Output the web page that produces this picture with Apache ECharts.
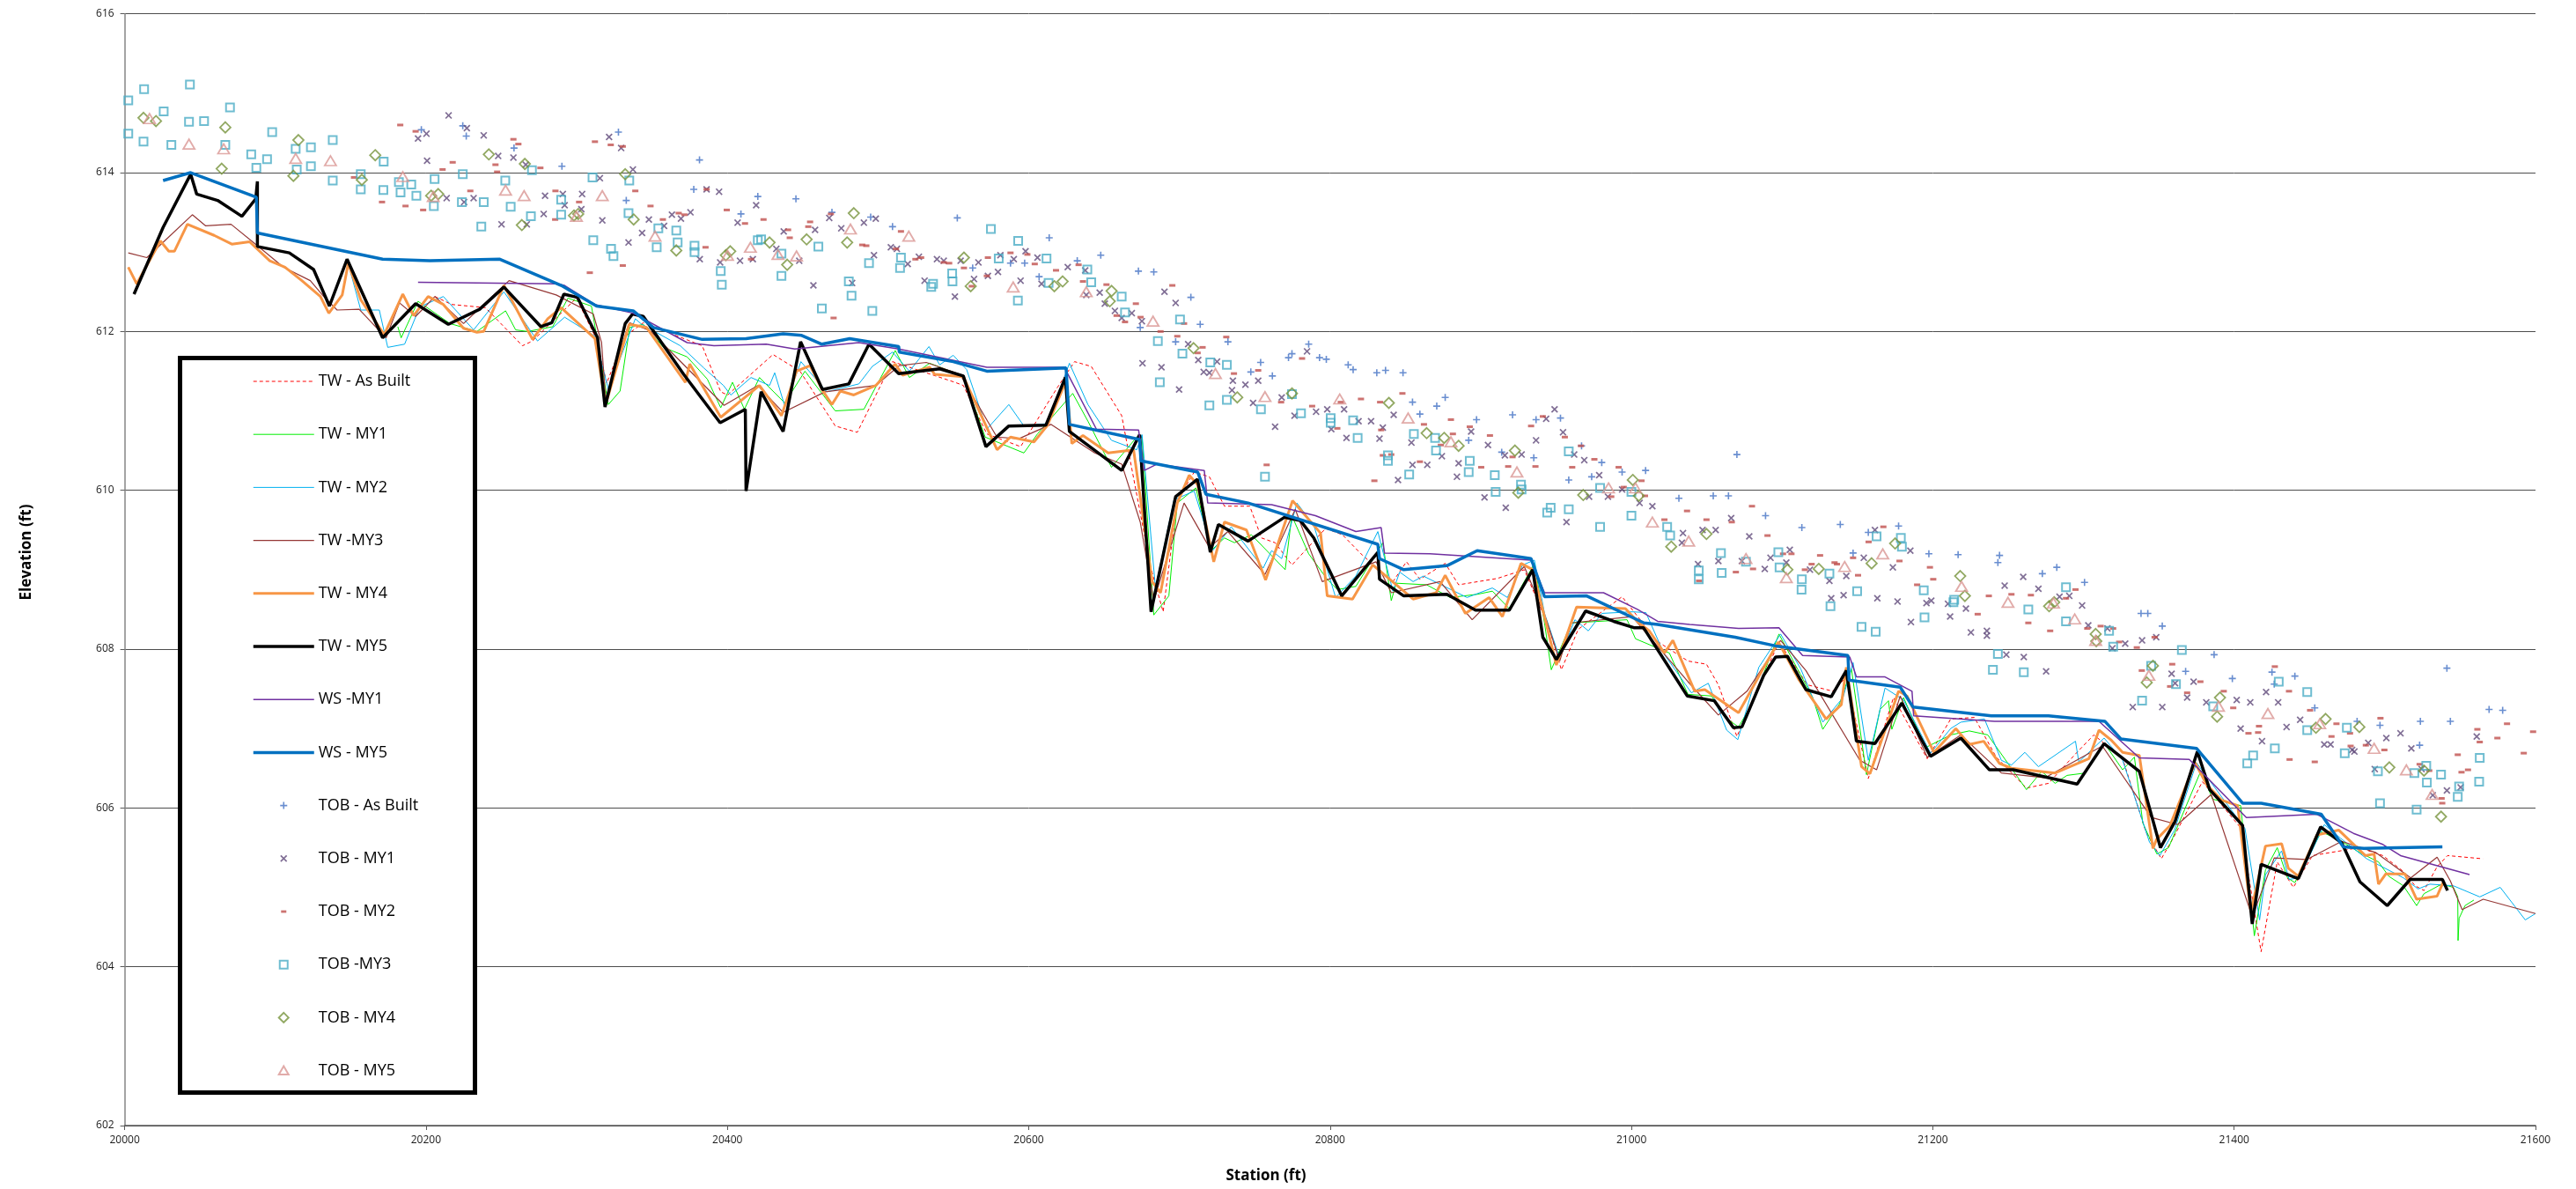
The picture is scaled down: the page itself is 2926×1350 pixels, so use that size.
<!DOCTYPE html>
<html>
<head>
<meta charset="utf-8">
<script src="https://cdn.jsdelivr.net/npm/echarts@6/dist/echarts.min.js"></script>
<style>
html,body{margin:0;padding:0;background:#fff;}
#chart{width:2926px;height:1350px;}
</style>
</head>
<body>
<div id="chart"></div>
<script>
// ---------- axis ticks ----------
const stationTicks = [20000, 20200, 20400, 20600, 20800, 21000, 21200, 21400, 21600];
const elevationTicks = [602, 604, 606, 608, 610, 612, 614, 616];

// ---------- series names ----------
const seriesNames = ['TW - As Built','TW - MY1','TW - MY2','TW -MY3','TW - MY4','TW - MY5','WS -MY1','WS - MY5',
  'TOB - As Built','TOB - MY1','TOB - MY2','TOB -MY3','TOB - MY4','TOB - MY5'];

// ---------- thalweg / water surface profiles [station, elevation] ----------
const twAsBuilt = [[20205.9,612.44],[20217,612.34],[20239.4,612.30],[20264,611.82],[20270.7,611.88],[20299.8,612.42],[20313.2,611.90],[20319.9,611.35],[20332.2,611.94],[20344.2,612.11],[20383.3,611.82],[20395.6,611.24],[20400.1,611.20],[20430.3,611.71],[20448.2,611.50],[20471.6,610.81],[20486.2,610.73],[20509.6,611.62],[20551,611.36],[20556.6,611.32],[20572.2,610.71],[20594.6,610.55],[20619.2,611.30],[20630.4,611.62],[20641.5,611.56],[20661.7,610.94],[20680.8,609.04],[20689.2,608.47],[20698.6,609.87],[20709.8,610.23],[20719.9,610.17],[20729.9,609.80],[20746.7,609.80],[20754.5,609.40],[20763.5,609.34],[20774.7,609.06],[20797,609.52],[20808.2,609.44],[20821.6,609.18],[20841.7,608.85],[20850.7,609.10],[20859.6,608.88],[20876.4,609.08],[20885.3,608.81],[20911,608.89],[20928.9,609.00],[20945.7,608.25],[20953.5,607.74],[20964.7,608.25],[20993.8,608.66],[21017,608.10],[21037.5,607.85],[21049.8,607.81],[21057.7,607.55],[21070,606.90],[21097.9,608.09],[21116.9,607.55],[21133.7,607.47],[21142.6,607.65],[21157.2,606.37],[21173.9,607.39],[21196.3,606.62],[21211.9,607.12],[21227.6,607.14],[21242.1,606.64],[21262.2,606.25],[21276.8,606.31],[21294.7,606.68],[21306.9,606.92],[21326,606.62],[21341.6,605.69],[21351.7,605.36],[21360.4,605.65],[21378.9,606.33],[21404.3,605.75],[21417.9,604.19],[21428.6,605.32],[21439.3,605.00],[21452,605.40],[21483.1,605.50],[21498.7,605.40],[21512.3,605.20],[21520.1,605.02],[21526,604.96],[21534.7,605.26],[21541.6,605.40],[21565,605.36]];

const twMY1 = [[20181.3,612.06],[20183.5,611.92],[20194.7,612.38],[20215.9,612.10],[20233.8,612.00],[20252.8,612.26],[20259.5,612.02],[20267.4,612.00],[20284.1,612.06],[20294.2,612.42],[20309.8,612.32],[20321,611.08],[20328.8,611.25],[20335.2,612.05],[20344.2,612.09],[20357.6,611.80],[20373.3,611.68],[20386.7,611.40],[20395.6,611.04],[20403.4,611.36],[20411.3,611.02],[20421.3,611.42],[20438.1,611.10],[20451.5,611.50],[20471.6,611.00],[20490.6,611.02],[20511.4,611.76],[20520.8,611.42],[20534.2,611.60],[20556.6,611.44],[20571.1,610.67],[20596.8,610.47],[20605.8,610.71],[20629.2,611.22],[20639.3,610.87],[20654.9,610.29],[20671.7,610.67],[20675.2,610.67],[20683,608.43],[20693,608.67],[20698.6,609.84],[20710.9,610.03],[20721,609.24],[20729.9,609.40],[20736.6,609.34],[20747.8,609.44],[20770.2,609.00],[20774.6,609.68],[20785.8,609.20],[20798.1,608.88],[20804.8,608.75],[20817.1,608.79],[20835,609.34],[20840.6,608.61],[20843.9,608.83],[20864.1,608.81],[20879.7,608.65],[20897.6,608.69],[20907.7,608.73],[20918.9,608.51],[20935.6,609.08],[20942.3,608.33],[20946.8,607.74],[20960.2,608.33],[20997.1,608.37],[21002.7,608.13],[21025.2,607.95],[21037.5,607.43],[21053.2,607.41],[21062.1,607.14],[21071.1,607.02],[21080,607.31],[21097.9,608.19],[21120.3,607.39],[21127,606.99],[21138.1,607.31],[21146,607.75],[21156,606.42],[21165,607.24],[21170.6,607.35],[21172.8,606.99],[21180.6,607.39],[21195.2,606.76],[21211.9,606.92],[21224.2,606.97],[21236.5,606.92],[21262.2,606.23],[21272.3,606.46],[21281.2,606.31],[21289.1,606.41],[21301.4,606.44],[21313.7,606.82],[21326,606.48],[21333.8,606.64],[21339.4,605.81],[21348.7,605.42],[21356.5,605.50],[21378,606.47],[21385.7,606.11],[21404.3,606.03],[21413.4,604.39],[21420.8,605.22],[21428.6,605.50],[21435.4,605.12],[21440.3,605.06],[21457.8,605.70],[21469.5,605.60],[21483.1,605.44],[21495.8,605.32],[21502.6,605.14],[21512.3,605.02],[21521.1,604.77],[21526,604.92],[21537.7,605.04],[21545.5,605.00],[21548.4,604.88],[21548.6,604.33],[21549.3,604.61],[21553.2,604.77],[21559.1,604.84]];

const twMY2 = [[20147.6,612.91],[20156.7,612.27],[20169,612.27],[20174.6,611.80],[20185.8,611.84],[20195.8,612.31],[20211.5,612.44],[20231.6,612.02],[20251.7,612.50],[20274,611.88],[20292,612.18],[20312.1,611.94],[20321,611.27],[20338.9,612.16],[20343.1,612.09],[20368.8,611.82],[20384.4,611.54],[20397.4,611.32],[20402.3,611.20],[20415.7,611.42],[20428,611.32],[20431.4,611.48],[20438.1,611.06],[20448.8,611.62],[20466,611.24],[20487.3,611.34],[20496.2,611.56],[20509.6,611.74],[20520.8,611.50],[20533.8,611.81],[20540.9,611.58],[20549.9,611.70],[20558.8,611.52],[20572.2,610.77],[20586.8,611.08],[20596.8,610.81],[20612.5,610.84],[20627,611.60],[20639.3,611.08],[20654.9,610.63],[20671.7,610.51],[20675.2,610.70],[20684.1,608.77],[20696.4,609.88],[20709.8,609.99],[20722.1,609.24],[20734.4,609.54],[20755.6,609.02],[20761.2,609.24],[20767.9,609.14],[20778,609.84],[20789.2,609.56],[20803.7,608.65],[20817.1,608.92],[20831.7,609.48],[20841.7,608.73],[20846.2,608.97],[20855.1,608.85],[20861.9,608.92],[20890.9,608.65],[20907.7,608.77],[20917.7,608.65],[20927.8,609.06],[20935.6,609.12],[20942.3,608.45],[20952.4,607.89],[20962.5,608.37],[20971.4,608.23],[20980.4,608.45],[21000.5,608.47],[21009.6,608.46],[21021.9,607.93],[21039.8,607.45],[21051,607.57],[21063.2,606.98],[21070.6,606.86],[21084.5,607.77],[21099,608.19],[21112.4,607.75],[21127,607.08],[21140.4,607.39],[21147.1,607.83],[21157.2,606.60],[21168.3,607.51],[21180.6,607.36],[21198.5,606.69],[21211.9,607.00],[21218.6,607.08],[21234.3,607.12],[21245.5,606.60],[21252.2,606.54],[21261.1,606.70],[21270.1,606.52],[21294.7,606.84],[21296.9,606.58],[21313.7,606.88],[21326,606.60],[21343.8,605.57],[21350.7,605.40],[21360.4,605.72],[21375,606.57],[21407.2,605.74],[21416.9,604.59],[21420.8,605.16],[21431.5,605.46],[21436.4,605.10],[21443.2,605.12],[21459.8,605.79],[21470.5,605.62],[21488,605.36],[21512.3,605.12],[21522.1,604.98],[21529.9,605.04],[21545.5,605.02],[21563,604.88],[21576.6,605.00],[21593.2,604.59],[21600,604.67]];

const twMY3 = [[20002.4,612.99],[20014.7,612.93],[20025.9,613.13],[20044.9,613.47],[20053.8,613.33],[20070.6,613.35],[20087.4,613.09],[20105.3,612.81],[20123.2,612.64],[20132.1,612.44],[20141.0,612.27],[20155.6,612.28],[20173.5,611.92],[20182.4,612.36],[20193.1,612.19],[20205.9,612.44],[20224.9,612.10],[20255.1,612.64],[20286.4,612.46],[20311,612.22],[20316.5,611.86],[20319.2,611.15],[20333.3,612.02],[20335.2,612.11],[20348.7,612.01],[20397.8,611.07],[20420.2,611.32],[20437,610.98],[20464.9,611.24],[20498.5,611.32],[20514.1,611.57],[20532,611.61],[20554.4,611.46],[20578.9,610.67],[20593.5,610.65],[20614.7,610.83],[20643.8,610.47],[20661.7,610.33],[20674,609.60],[20683,608.61],[20703.1,609.84],[20719.9,609.28],[20732.2,609.48],[20756.8,608.94],[20776.9,609.76],[20794.8,608.85],[20830.5,609.10],[20840.6,608.71],[20873,608.85],[20894.3,608.37],[20928.9,609.04],[20943.5,608.37],[20952.4,607.85],[20960.2,608.33],[21000.5,608.41],[21037.5,607.59],[21057.7,607.17],[21076.7,607.47],[21099,608.11],[21115.8,607.73],[21151.6,606.60],[21162.7,606.48],[21178.4,607.41],[21196.3,606.64],[21218.6,606.92],[21245.5,606.44],[21274.5,606.38],[21312.5,606.78],[21345,605.88],[21362.4,605.79],[21384.8,606.17],[21412.0,604.63],[21426.6,605.37],[21448.1,605.35],[21471.4,605.58],[21493.8,605.44],[21517.2,605.12],[21534.7,605.38],[21543.5,605.08],[21551.3,604.72],[21565.3,604.85],[21600,604.67]];

const twMY4 = [[20002.4,612.81],[20008,612.60],[20023.7,613.14],[20029.3,613.01],[20033,613.01],[20041.6,613.35],[20059.4,613.21],[20071.1,613.10],[20082.9,613.13],[20096.3,612.89],[20106.4,612.81],[20117.6,612.64],[20129.9,612.44],[20135.5,612.23],[20144.4,612.46],[20148.4,612.86],[20156.7,612.40],[20172.3,611.96],[20184.6,612.47],[20191.8,612.20],[20201.4,612.44],[20211.5,612.34],[20224.9,612.04],[20233.8,611.99],[20238.3,612.00],[20251.7,612.58],[20270.7,611.90],[20280.8,612.16],[20289.7,612.30],[20312.1,611.91],[20319.2,611.08],[20327.7,611.63],[20334.8,612.09],[20346.4,612.05],[20372.1,611.36],[20375,611.59],[20395.6,610.92],[20421.3,611.32],[20435.9,610.94],[20445.9,611.50],[20454.9,611.57],[20463.1,611.26],[20469.4,611.08],[20475,611.25],[20483.9,611.20],[20498.5,611.32],[20511.4,611.59],[20516.3,611.45],[20534.2,611.55],[20537.6,611.46],[20556.6,611.43],[20579,610.51],[20587.9,610.67],[20603.5,610.61],[20612.5,610.82],[20624.8,611.38],[20628.6,610.59],[20636,610.69],[20652.7,610.47],[20669.6,610.51],[20681.9,608.85],[20687.5,608.71],[20698.6,609.84],[20706.5,610.19],[20712.1,610.07],[20722.8,609.10],[20729.9,609.60],[20744.5,609.50],[20757.2,608.87],[20775.1,609.87],[20793.7,609.46],[20798.1,608.67],[20814.9,608.63],[20828.3,609.06],[20855.1,608.63],[20870.4,608.71],[20876.4,608.93],[20889.8,608.45],[20905.5,608.65],[20914.4,608.41],[20926.7,609.08],[20934.5,609.00],[20942.3,608.41],[20950.2,607.80],[20963.6,608.53],[20996,608.51],[21004.9,608.33],[21011.8,608.23],[21021.9,607.95],[21027.5,608.11],[21042,607.47],[21048.7,607.49],[21071.1,607.20],[21086.7,607.73],[21097.5,608.09],[21111.3,607.61],[21129.2,607.12],[21139.3,607.30],[21142.6,607.77],[21152.7,606.52],[21158.3,606.43],[21161.6,606.61],[21177.3,607.47],[21182.9,607.41],[21200.7,606.70],[21215.3,607.00],[21224.2,606.80],[21233.8,606.84],[21244.3,606.56],[21252.2,606.50],[21281.2,606.44],[21303.6,606.62],[21310.3,606.98],[21318.1,606.86],[21326,606.70],[21337.1,606.66],[21346.1,605.49],[21348.4,605.60],[21357.5,605.78],[21374.1,606.57],[21381.9,606.29],[21391.6,606.10],[21402.3,606.03],[21411.1,604.69],[21420.8,605.52],[21431.5,605.55],[21436,605.24],[21442.6,605.14],[21454.9,605.66],[21469.5,605.72],[21487,605.40],[21492.9,605.42],[21495.8,605.04],[21500.7,605.17],[21513.3,605.17],[21521.1,604.85],[21534.7,604.89],[21538.6,605.06]];

const twMY5 = [[20006.2,612.47],[20025.5,613.31],[20043.8,613.98],[20047.8,613.73],[20061.7,613.65],[20077.8,613.45],[20087.0,613.67],[20088.1,613.89],[20088.1,613.07],[20109.3,612.99],[20125.4,612.78],[20135.9,612.32],[20147.6,612.91],[20171.2,611.92],[20193.1,612.35],[20214.8,612.09],[20235.6,612.28],[20251.7,612.56],[20276.3,612.06],[20283.5,612.11],[20291.5,612.47],[20300.5,612.43],[20313.9,611.92],[20318.8,611.05],[20332.2,612.10],[20337.1,612.22],[20344.2,612.19],[20371.0,611.46],[20395.2,610.85],[20411.9,611.02],[20412.4,609.99],[20422.4,611.24],[20437.0,610.74],[20448.6,611.87],[20463.1,611.27],[20480.6,611.34],[20494.0,611.84],[20513.7,611.47],[20540.9,611.53],[20556.6,611.44],[20571.6,610.55],[20586.8,610.81],[20611.4,610.82],[20624.3,611.42],[20627.0,610.74],[20661.7,610.25],[20673.6,610.70],[20681.2,608.47],[20697.5,609.92],[20712.0,610.14],[20720.5,609.22],[20725.9,609.57],[20745.6,609.36],[20769.7,609.66],[20780.2,609.62],[20789.2,609.40],[20807.7,608.67],[20831.7,609.22],[20832.8,608.88],[20848.9,608.67],[20877.5,608.69],[20896.5,608.49],[20918.9,608.49],[20934.5,609.00],[20941.2,608.15],[20950.2,607.87],[20969.6,608.48],[20988.2,608.35],[21001.6,608.27],[21008,608.27],[21037.1,607.41],[21055,607.35],[21067.7,607.01],[21073.3,607.02],[21087.8,607.67],[21095.7,607.90],[21103.5,607.91],[21115.8,607.49],[21132.6,607.40],[21142.6,607.73],[21149.3,606.84],[21161.6,606.81],[21179.5,607.32],[21198.5,606.65],[21218.6,606.88],[21237.6,606.48],[21253.3,606.48],[21295.8,606.30],[21313.7,606.81],[21337.1,606.46],[21351.1,605.50],[21360.8,605.83],[21375.6,606.71],[21383.8,606.23],[21405.6,605.78],[21412.0,604.54],[21417.9,605.29],[21442.6,605.11],[21457.4,605.76],[21471.4,605.56],[21483.5,605.07],[21501.6,604.77],[21516.8,605.10],[21538.2,605.10],[21541.6,604.96]];

const wsMY1 = [[20194.7,612.62],[20286.4,612.60],[20291.9,612.58],[20312,612.34],[20337.5,612.23],[20373.3,611.86],[20391.1,611.82],[20425.8,611.84],[20444.8,611.78],[20487.3,611.86],[20513.7,611.78],[20572.2,611.55],[20623.6,611.55],[20644.9,610.77],[20672.9,610.76],[20676.7,610.25],[20685.2,610.33],[20716.5,610.25],[20718.8,609.84],[20761.2,609.82],[20790.3,609.68],[20817.1,609.48],[20833.9,609.53],[20836.1,609.21],[20866.3,609.20],[20933.4,609.12],[20942.3,608.71],[20981.5,608.71],[21004,608.50],[21017.4,608.35],[21038.7,608.31],[21071.1,608.26],[21097.9,608.27],[21113.6,607.92],[21144.9,607.90],[21149.3,607.65],[21168.3,607.65],[21186.2,607.47],[21187.3,607.16],[21241,607.09],[21310.3,607.09],[21337.1,606.63],[21370.2,606.61],[21408.1,605.88],[21454.9,605.92],[21479.2,605.68],[21498.7,605.54],[21510.4,605.40],[21556.2,605.16]];

const wsMY5 = [[20025.5,613.90],[20043.8,614.00],[20087.4,613.69],[20088.1,613.24],[20171.2,612.91],[20202.5,612.89],[20249,612.91],[20289.7,612.58],[20313.2,612.32],[20337.5,612.26],[20350.9,612.05],[20383.3,611.90],[20412.4,611.91],[20437.0,611.97],[20449.3,611.95],[20462.7,611.84],[20481.2,611.91],[20513.7,611.81],[20514.1,611.74],[20549.9,611.62],[20572.2,611.50],[20624.8,611.54],[20627,610.83],[20673.6,610.64],[20674.5,610.37],[20712.1,610.23],[20717.6,609.95],[20745.6,609.84],[20831.7,609.32],[20832.8,609.14],[20848.9,609.00],[20877.5,609.05],[20897.6,609.24],[20933.4,609.14],[20942.3,608.66],[20970.3,608.67],[21008.3,608.33],[21017.4,608.31],[21068.8,608.15],[21095.7,608.04],[21143.7,607.92],[21144.4,607.61],[21178.4,607.52],[21186.9,607.27],[21238.8,607.16],[21276.8,607.16],[21314.3,607.09],[21324.8,606.87],[21375,606.75],[21405.6,606.06],[21417.9,606.06],[21457.8,605.92],[21472.4,605.51],[21486.1,605.49],[21538.2,605.51]];

// ---------- top of bank points [station, elevation] ----------
const tobAsBuilt = [[20196.9,614.54],[20224.4,614.59],[20226.7,614.46],[20258.4,614.31],[20290.2,614.08],[20327.7,614.51],[20332.9,613.65],[20381.5,614.16],[20377.7,613.79],[20420.2,613.70],[20409.0,613.48],[20445.5,613.67],[20469.4,613.50],[20495.1,613.44],[20509.6,613.32],[20552.6,613.43],[20613.6,613.18],[20647.8,612.96],[20672.8,612.76],[20632.2,612.89],[20606.9,612.69],[20587.9,612.86],[20597.3,612.86],[20562.8,612.80],[20674,612.05],[20683.0,612.75],[20707.6,612.43],[20697.5,611.87],[20713.8,612.09],[20732.2,611.87],[20753.9,611.61],[20747.4,611.49],[20761.7,611.44],[20772.4,611.67],[20774.7,611.72],[20785.8,611.84],[20793.0,611.67],[20797.5,611.65],[20812.0,611.58],[20815.3,611.52],[20831.0,611.48],[20836.8,611.51],[20848.4,611.48],[20854.7,611.11],[20859.6,610.96],[20870.8,611.06],[20876.4,611.17],[20892.0,610.63],[20897.2,610.89],[20913.9,610.48],[20921.1,610.95],[20936.7,610.89],[20952.9,610.91],[20935.2,610.41],[20958.4,610.13],[20966.9,610.56],[20973.6,610.17],[20980.3,610.35],[20993.8,610.23],[21009.4,610.25],[21070.0,610.45],[21031.5,609.90],[21054.3,609.93],[21064.4,609.93],[21089.0,609.68],[21113.1,609.53],[21138.6,609.57],[21157.2,609.47],[21177.3,609.55],[21147.1,609.21],[21197.4,609.20],[21216.8,609.19],[21244.3,609.18],[21243.2,609.09],[21272.7,608.95],[21282.3,609.03],[21300.7,608.84],[21338.2,608.45],[21342.7,608.45],[21352.3,608.29],[21386.7,607.93],[21367.8,607.72],[21398.8,607.63],[21425.1,607.71],[21426.6,607.56],[21440.3,607.66],[21453.5,607.26],[21481.6,607.09],[21496.8,607.04],[21523.6,607.09],[21523.1,606.79],[21543.5,607.09],[21541.2,607.76],[21569.2,607.24],[21578.2,607.23]];

const tobMY1 = [[20215.0,614.72],[20194.7,614.43],[20200.3,614.49],[20200.7,614.15],[20213.7,613.68],[20225.3,613.63],[20231.6,613.68],[20227.1,614.56],[20238.3,614.47],[20247.9,614.21],[20258.0,614.19],[20266.2,614.10],[20250.1,613.35],[20266.9,613.35],[20279.0,613.71],[20290.8,613.73],[20292.0,613.59],[20303.6,613.73],[20303.1,613.54],[20278.1,613.48],[20315.4,613.93],[20317.0,613.40],[20321.5,614.45],[20329.5,614.31],[20337.3,614.04],[20343.4,613.24],[20334.4,613.12],[20347.9,613.41],[20386.2,613.79],[20394.5,613.76],[20363.2,613.47],[20369.2,613.42],[20375.5,613.50],[20358.0,613.33],[20381.7,612.91],[20395.2,612.87],[20408.4,612.89],[20416.9,612.91],[20406.8,613.37],[20419.1,613.59],[20432.5,613.04],[20437.4,613.26],[20447.7,612.89],[20458.2,613.28],[20457.1,612.58],[20467.6,613.43],[20475.6,613.30],[20482.8,612.61],[20490.6,613.37],[20498.5,613.42],[20497.3,612.96],[20508.5,613.06],[20512.5,613.04],[20519.7,612.85],[20527.1,612.94],[20530.9,612.64],[20539.1,612.91],[20543.6,612.89],[20551.0,612.44],[20554.8,612.89],[20563.7,612.66],[20566.6,612.87],[20572.9,612.70],[20579.6,612.75],[20581.2,612.96],[20590.1,612.91],[20594.6,612.64],[20597.9,613.01],[20605.8,612.93],[20608.5,612.60],[20625.9,612.81],[20637.5,612.77],[20638.2,612.46],[20647.1,612.49],[20650.5,612.35],[20657.2,612.26],[20661.7,612.17],[20668.4,612.23],[20675.1,612.13],[20675.5,611.60],[20690.1,612.50],[20697.5,612.36],[20688.1,611.55],[20699.8,611.27],[20705.8,611.84],[20712.5,611.64],[20716.1,611.49],[20719.9,611.48],[20725.0,611.62],[20735.5,611.38],[20734.9,611.26],[20743.8,611.33],[20752.3,611.38],[20748.9,611.10],[20763.5,610.80],[20767.9,611.17],[20776.4,610.94],[20784.7,611.75],[20790.7,610.99],[20798.1,611.02],[20800.8,610.77],[20809.3,611.02],[20810.9,610.66],[20818.9,610.87],[20827.2,610.87],[20832.8,610.65],[20835.0,610.79],[20842.2,610.95],[20845.1,610.13],[20854.0,610.60],[20854.7,610.32],[20864.5,610.32],[20874.2,610.43],[20884.2,610.17],[20885.3,610.34],[20893.6,610.74],[20902.5,609.91],[20904.8,610.57],[20916.0,610.44],[20916.6,609.78],[20927.1,610.45],[20936.7,610.63],[20943.4,610.90],[20949.0,611.02],[20954.6,610.73],[20956.9,609.60],[20962.0,610.45],[20968.7,610.38],[20978.6,610.19],[20971.9,609.92],[20984.4,609.92],[20993.8,610.01],[21005.4,609.84],[21013.9,609.80],[21034.2,609.46],[21033.5,609.34],[21047.2,609.50],[21055.9,609.50],[21066.2,609.65],[21044.2,609.07],[21057.7,609.11],[21073.3,609.11],[21078.2,609.42],[21088.5,609.01],[21092.3,609.15],[21102.8,609.09],[21105.1,609.25],[21118.5,609.00],[21131.4,608.86],[21132.6,608.64],[21140.8,608.68],[21142.6,608.92],[21154.2,609.15],[21161.6,609.50],[21163.2,608.64],[21173.5,609.03],[21176.6,608.60],[21185.1,609.24],[21185.5,608.34],[21195.8,608.58],[21199.0,608.61],[21210.1,608.57],[21211.5,608.41],[21222.0,608.51],[21225.3,608.21],[21235.9,608.23],[21235.9,608.17],[21247.7,608.80],[21248.8,607.93],[21260.0,608.91],[21260.4,607.90],[21270.1,608.76],[21275.2,607.72],[21284.1,608.66],[21290.6,608.67],[21299.1,608.55],[21303.2,608.30],[21315.9,608.26],[21319.2,608.01],[21327.7,608.07],[21338.9,608.11],[21348.3,608.15],[21332.7,607.27],[21352.3,607.27],[21358.5,607.69],[21360.8,607.57],[21368.8,607.39],[21373.1,607.59],[21381.5,607.33],[21401.7,607.36],[21410.7,607.33],[21404.3,607.00],[21418.5,606.84],[21421.2,607.46],[21429.2,607.33],[21434.8,607.02],[21443.8,607.11],[21459.8,606.80],[21464.0,606.80],[21478.3,606.73],[21479.8,606.71],[21489.0,606.82],[21501.0,606.88],[21510.4,606.94],[21493.3,606.49],[21517.6,606.75],[21524.4,606.49],[21531.8,606.16],[21541.2,606.22],[21550.3,606.26],[21561.0,606.90]];

const tobMY2 = [[20182.9,614.60],[20193.1,614.52],[20217.7,614.13],[20211.0,614.04],[20170.8,613.63],[20186.4,613.58],[20198.1,613.53],[20229.4,613.77],[20246.1,614.10],[20247.2,614.01],[20258.0,614.42],[20261.3,614.36],[20275.9,614.06],[20285.9,613.77],[20285.7,613.41],[20301.6,613.63],[20312.1,614.39],[20322.6,614.35],[20330.6,614.33],[20338.9,613.77],[20308.7,612.74],[20330.6,612.83],[20349.0,613.58],[20152.2,613.94],[20357.2,613.41],[20367.7,613.49],[20371.5,613.47],[20386.2,613.79],[20385.5,613.06],[20399.6,613.53],[20411.7,613.36],[20415.7,612.91],[20424.0,613.41],[20440.3,613.28],[20441.4,613.18],[20454.9,613.38],[20453.7,613.32],[20468.7,613.48],[20470.5,612.17],[20489.5,613.09],[20492.2,613.08],[20515.2,613.26],[20511.9,613.04],[20524.8,612.91],[20528.6,612.93],[20543.6,612.87],[20547.2,612.86],[20557.0,612.80],[20562.2,612.57],[20572.2,612.70],[20572.9,612.93],[20587.9,612.99],[20599.1,612.97],[20604.0,612.85],[20618.1,612.77],[20633.1,612.84],[20636.0,612.63],[20651.6,612.59],[20658.3,612.20],[20663.9,612.12],[20671.1,612.35],[20674.2,612.18],[20695.3,612.58],[20687.5,612.00],[20698.6,611.94],[20703.1,612.10],[20715.4,611.80],[20712.1,611.73],[20731.1,611.93],[20736.2,611.47],[20752.3,611.51],[20757.9,610.32],[20767.5,611.11],[20781.4,611.66],[20788.1,611.06],[20804.8,610.78],[20807.1,611.11],[20820.5,611.15],[20829.4,610.12],[20833.2,611.11],[20833.9,610.76],[20835.0,610.44],[20840.6,610.45],[20848.0,611.22],[20859.6,610.36],[20862.3,610.83],[20873.5,610.57],[20880.2,610.89],[20881.5,610.71],[20892.7,610.80],[20900.3,610.29],[20906.1,610.69],[20918.2,610.30],[20921.1,610.42],[20933.4,610.81],[20936.3,610.30],[20941.2,610.93],[20955.8,610.67],[20960.7,610.29],[20966.5,610.56],[20975.4,610.39],[20986.6,609.92],[20991.5,610.29],[20994.9,610.04],[21006.7,610.12],[21009.0,609.93],[21021.9,609.63],[21036.9,609.74],[21049.8,609.63],[21066.6,609.60],[21080.0,609.80],[21090.3,609.43],[21044.9,608.86],[21069.3,608.97],[21080.7,609.01],[21100.6,609.20],[21106.2,609.20],[21115.1,609.00],[21119.6,609.07],[21125.2,609.18],[21134.8,609.09],[21136.4,609.07],[21150.4,608.93],[21147.1,609.15],[21157.4,609.35],[21167.2,609.54],[21177.9,609.11],[21189.6,608.81],[21198.1,609.03],[21200.3,608.88],[21229.8,608.44],[21237.2,608.67],[21252.2,608.69],[21263.4,608.33],[21265.1,608.68],[21277.9,608.23],[21288.4,608.64],[21294.7,608.75],[21302.5,608.26],[21311.4,608.29],[21319.7,608.26],[21323.7,608.09],[21335.4,608.02],[21338.7,607.73],[21347.2,608.15],[21358.9,607.81],[21357.5,607.53],[21368.8,607.45],[21377.6,607.59],[21393.1,607.47],[21399.4,607.26],[21409.5,606.94],[21416.5,607.03],[21415.9,606.95],[21427.0,607.78],[21436.4,607.47],[21436.8,606.61],[21450.4,607.23],[21453.5,606.58],[21464.6,606.90],[21467.9,607.06],[21476.9,606.94],[21477.3,606.78],[21487.4,606.79],[21497.1,607.13],[21499.7,606.73],[21523.1,606.55],[21529.5,606.47],[21537.7,606.12],[21538.1,606.06],[21548.4,606.67],[21550.9,606.45],[21555.2,606.48],[21561.4,606.99],[21563.0,606.83],[21574.7,606.88],[21581.1,607.06],[21592.2,606.69],[21598.4,606.96]];

const tobMY3 = [[20002.4,614.91],[20012.9,615.05],[20002.4,614.49],[20012.5,614.39],[20025.9,614.77],[20043.3,615.11],[20042.7,614.64],[20052.7,614.65],[20031.0,614.35],[20069.9,614.82],[20066.8,614.35],[20084.0,614.23],[20087.4,614.06],[20094.5,614.17],[20097.9,614.51],[20113.5,614.30],[20123.6,614.32],[20114.2,614.04],[20123.6,614.08],[20138.1,614.41],[20138.1,613.90],[20171.9,614.14],[20156.7,613.98],[20156.7,613.79],[20171.7,613.78],[20182.0,613.88],[20190.2,613.85],[20183.1,613.75],[20193.6,613.71],[20205.7,613.92],[20205.2,613.58],[20224.4,613.98],[20223.8,613.63],[20238.3,613.63],[20236.7,613.32],[20252.6,613.90],[20256.2,613.57],[20270.3,614.03],[20269.6,613.45],[20289.7,613.66],[20289.7,613.47],[20310.5,613.94],[20311.0,613.15],[20322.8,613.04],[20324.4,612.95],[20334.9,613.90],[20334.4,613.49],[20354.2,613.30],[20353.1,613.06],[20366.1,613.27],[20367.0,613.12],[20378.2,613.08],[20378.2,613.00],[20395.6,612.76],[20396.3,612.59],[20420.2,613.15],[20422.4,613.16],[20435.9,612.98],[20435.9,612.70],[20460.4,613.07],[20462.7,612.29],[20480.6,612.63],[20482.4,612.45],[20494.0,612.86],[20496.2,612.26],[20515.2,612.93],[20514.6,612.80],[20536.5,612.60],[20535.3,612.56],[20549.2,612.73],[20549.4,612.63],[20574.9,613.29],[20580.1,612.92],[20593.0,613.14],[20592.8,612.39],[20611.8,612.92],[20613.2,612.61],[20638.9,612.78],[20641.5,612.62],[20661.7,612.44],[20663.9,612.24],[20700.4,612.15],[20685.7,611.88],[20702.0,611.72],[20687.0,611.36],[20720.5,611.61],[20731.5,611.58],[20719.9,611.07],[20731.5,611.14],[20754.1,611.02],[20774.7,611.21],[20780.7,610.97],[20800.4,610.91],[20800.4,610.85],[20815.3,610.88],[20818.3,610.66],[20756.8,610.17],[20838.4,610.44],[20838.4,610.37],[20852.5,610.20],[20855.6,610.71],[20869.7,610.66],[20870.3,610.50],[20892.7,610.37],[20892.0,610.23],[20909.3,610.19],[20909.9,609.98],[20926.7,610.07],[20927.1,610.01],[20944.1,609.72],[20946.4,609.78],[20958.4,610.49],[20958.4,609.76],[20979.2,610.03],[20979.2,609.54],[21000.0,609.68],[21000.0,609.98],[21023.7,609.54],[21025.7,609.43],[21044.7,608.99],[21044.7,608.88],[21059.4,609.21],[21059.9,608.96],[21076.0,609.10],[21097.5,609.22],[21098.3,609.03],[21113.1,608.88],[21112.9,608.75],[21131.4,608.95],[21132.1,608.54],[21149.8,608.73],[21152.7,608.28],[21162.1,608.22],[21162.7,609.42],[21178.8,609.40],[21179.5,609.29],[21194.0,608.74],[21194.5,608.40],[21213.7,608.59],[21214.2,608.62],[21243.2,607.94],[21239.9,607.74],[21260.4,607.71],[21263.4,608.50],[21288.4,608.78],[21288.4,608.35],[21317.0,608.23],[21319.7,608.03],[21338.9,607.35],[21344.9,607.79],[21365.3,607.99],[21361.4,607.56],[21386.1,607.28],[21408.7,606.56],[21412.6,606.66],[21427.0,606.75],[21429.6,607.59],[21448.5,607.46],[21448.5,606.98],[21473.4,606.69],[21474.8,607.01],[21495.4,606.46],[21496.8,606.06],[21519.6,606.44],[21521.1,605.98],[21527.5,606.53],[21527.9,606.32],[21537.3,606.42],[21549.3,606.27],[21548.4,606.14],[21563.0,606.63],[21562.6,606.33]];

const tobMY4 = [[20012.5,614.69],[20020.8,614.65],[20066.8,614.57],[20064.4,614.05],[20115.3,614.41],[20112.0,613.96],[20166.3,614.22],[20157.4,613.91],[20203.4,613.71],[20208.1,613.73],[20241.7,614.23],[20265.6,614.11],[20263.6,613.34],[20298.2,613.46],[20301.0,613.48],[20332.2,613.98],[20337.8,613.41],[20366.1,613.02],[20399.0,612.96],[20401.9,613.01],[20428.0,613.12],[20439.7,612.84],[20452.6,613.16],[20479.5,613.12],[20483.9,613.49],[20557.0,612.93],[20561.5,612.57],[20617.0,612.57],[20622.5,612.63],[20655.0,612.51],[20653.8,612.38],[20709.4,611.79],[20738.4,611.17],[20774.7,611.22],[20839.0,611.10],[20864.1,610.72],[20875.7,610.66],[20885.3,610.56],[20922.7,610.50],[20924.9,609.97],[20968.0,609.94],[21000.9,610.13],[21004.9,609.93],[21026.4,609.29],[21049.8,609.45],[21103.5,609.00],[21124.3,609.01],[21159.4,609.08],[21175.0,609.33],[21218.2,608.92],[21221.3,608.67],[21277.2,608.54],[21280.6,608.59],[21308.1,608.19],[21308.5,608.10],[21342.0,607.58],[21346.1,607.79],[21390.6,607.39],[21388.7,607.15],[21454.3,607.01],[21460.7,607.12],[21483.1,607.02],[21503.0,606.51],[21526.0,606.47],[21537.3,605.89]];

const tobMY5 = [[20016.5,614.68],[20042.7,614.36],[20065.7,614.30],[20113.5,614.18],[20136.6,614.15],[20184.6,613.95],[20204.8,613.70],[20252.8,613.78],[20265.1,613.71],[20299.8,613.45],[20317.0,613.71],[20352.0,613.20],[20400.1,612.96],[20415.3,613.06],[20433.6,612.97],[20445.9,612.95],[20481.7,613.29],[20520.4,613.20],[20589.7,612.56],[20638.2,612.50],[20682.5,612.13],[20723.9,611.47],[20756.8,611.18],[20806.4,611.15],[20851.8,610.91],[20880.2,610.61],[20924.0,610.23],[20984.8,610.03],[21002.7,610.03],[21013.9,609.60],[21038.0,609.36],[21076.0,609.14],[21102.8,608.90],[21141.5,609.04],[21166.8,609.20],[21219.1,608.79],[21249.9,608.59],[21280.1,608.58],[21294.2,608.38],[21308.1,608.11],[21343.4,607.67],[21389.6,607.28],[21422.4,607.19],[21456.8,607.06],[21492.9,606.75],[21514.3,606.48],[21531.4,606.17]];

// ---------- build chart ----------
const FONT = '"Open Sans", "Liberation Sans", sans-serif';
const PLUS = 'path://M4,0H6V4H10V6H6V10H4V6H0V4H4Z';
const CROSS = 'path://M0,1.5L1.5,0L5,3.5L8.5,0L10,1.5L6.5,5L10,8.5L8.5,10L5,6.5L1.5,10L0,8.5L3.5,5Z';
// legend icons drawn inside a 12x12 box (the leading moves fix the box so sizes stay true)
const L_PLUS = 'path://M0,0M12,12M5.2,2H6.8V5.2H10V6.8H6.8V10H5.2V6.8H2V5.2H5.2Z';
const L_CROSS = 'path://M0,0M12,12M2,3.2L3.2,2L6,4.8L8.8,2L10,3.2L7.2,6L10,8.8L8.8,10L6,7.2L3.2,10L2,8.8L4.8,6Z';
const L_DASH = 'path://M0,0M12,12M3,4.6H9V7.4H3Z';
const L_SQUARE = 'path://M0,0M12,12M1.5,1.5H10.5V10.5H1.5Z';
const L_DIAMOND = 'path://M0,0M12,12M6,0.5L11.5,6L6,11.5L0.5,6Z';
const L_TRIANGLE = 'path://M0,0M12,12M6,1L11.5,10.5H0.5Z';

function lineSeries(name, data, color, width, type) {
  return { name, type: 'line', data, showSymbol: false, symbol: 'none', z: 2,
    lineStyle: { color, width, type: type || 'solid' }, itemStyle: { color } };
}
function hollow(name, data, symbol, size, color, bw) {
  return { name, type: 'scatter', data, symbol, symbolSize: size, z: 3,
    itemStyle: { color: 'rgba(255,255,255,0)', borderColor: color, borderWidth: bw } };
}
function filled(name, data, symbol, size, color) {
  return { name, type: 'scatter', data, symbol, symbolSize: size, z: 3, itemStyle: { color } };
}

const series = [
  lineSeries(seriesNames[0], twAsBuilt, '#FF0000', 1, [4, 3]),
  lineSeries(seriesNames[1], twMY1, '#00EE00', 1),
  lineSeries(seriesNames[2], twMY2, '#00B0F0', 1),
  lineSeries(seriesNames[3], twMY3, '#953735', 1.2),
  lineSeries(seriesNames[4], twMY4, '#F79646', 3),
  lineSeries(seriesNames[5], twMY5, '#000000', 3.5),
  lineSeries(seriesNames[6], wsMY1, '#7030A0', 1.5),
  lineSeries(seriesNames[7], wsMY5, '#0070C0', 3.5),
  filled(seriesNames[8], tobAsBuilt, PLUS, 8, '#4472C4'),
  filled(seriesNames[9], tobMY1, CROSS, 8, '#604A7B'),
  filled(seriesNames[10], tobMY2, 'rect', [7, 3], '#C0504D'),
  hollow(seriesNames[11], tobMY3, 'rect', 9, '#4BACC6', 2),
  hollow(seriesNames[12], tobMY4, 'diamond', 12, '#77933C', 1.8),
  hollow(seriesNames[13], tobMY5, 'triangle', [13, 11], '#D99694', 1.8)
];

// legend entries: lines without the middle dot, point series with true-aspect icons
const legendIcons = [null, null, null, null, null, null, null, null, L_PLUS, L_CROSS, L_DASH, L_SQUARE, L_DIAMOND, L_TRIANGLE];
const legendData = seriesNames.map((name, i) => {
  const s = series[i];
  if (!legendIcons[i]) {
    return { name, itemStyle: { opacity: 0 },
      lineStyle: { color: s.lineStyle.color, width: s.lineStyle.width, type: s.lineStyle.type } };
  }
  const hollowIcon = s.itemStyle.borderColor;
  return { name, icon: legendIcons[i],
    itemStyle: hollowIcon
      ? { color: 'rgba(255,255,255,0)', borderColor: s.itemStyle.borderColor, borderWidth: 2 }
      : { color: s.itemStyle.color, borderWidth: 0 } };
});

const chart = echarts.init(document.getElementById('chart'), null, { renderer: 'canvas' });
chart.setOption({
  animation: false,
  backgroundColor: '#ffffff',
  grid: { left: 141.6, right: 46, top: 15.7, bottom: 72, containLabel: false },
  xAxis: {
    type: 'value', min: stationTicks[0], max: stationTicks[stationTicks.length - 1], interval: 200,
    axisLine: { show: true, onZero: false, lineStyle: { color: '#595959', width: 1.5 } },
    axisTick: { show: true, length: 5, lineStyle: { color: '#595959' } },
    axisLabel: { margin: 11, fontSize: 12, color: '#1a1a1a', fontFamily: FONT, formatter: v => String(v) },
    splitLine: { show: false }
  },
  yAxis: {
    type: 'value', min: elevationTicks[0], max: elevationTicks[elevationTicks.length - 1], interval: 2,
    axisLine: { show: true, lineStyle: { color: '#868686', width: 1.5 } },
    axisTick: { show: true, length: 5, lineStyle: { color: '#595959' } },
    axisLabel: { margin: 12, fontSize: 12, color: '#1a1a1a', fontFamily: FONT },
    splitLine: { show: true, lineStyle: { color: '#4d4d4d', width: 1 } }
  },
  legend: {
    data: legendData, orient: 'vertical', left: 281, top: 419, z: 10,
    itemWidth: 69, itemHeight: 12, itemGap: 42.2, selectedMode: false,
    textStyle: { fontSize: 18, fontFamily: FONT, color: '#000', lineHeight: 18 },
    backgroundColor: 'rgba(0,0,0,0)'
  },
  graphic: [
    { type: 'rect', z: 5, shape: { x: 204.5, y: 406.5, width: 335, height: 834 },
      style: { fill: '#ffffff', stroke: '#000000', lineWidth: 5 } },
    { type: 'text', z: 6, x: 30, y: 627, rotation: Math.PI / 2,
      style: { text: 'Elevation (ft)', font: 'bold 17px ' + FONT, fill: '#000', textAlign: 'center', textVerticalAlign: 'middle' } },
    { type: 'text', z: 6, x: 1438, y: 1335,
      style: { text: 'Station (ft)', font: 'bold 17px ' + FONT, fill: '#000', textAlign: 'center', textVerticalAlign: 'middle' } }
  ],
  series
});
</script>
</body>
</html>
